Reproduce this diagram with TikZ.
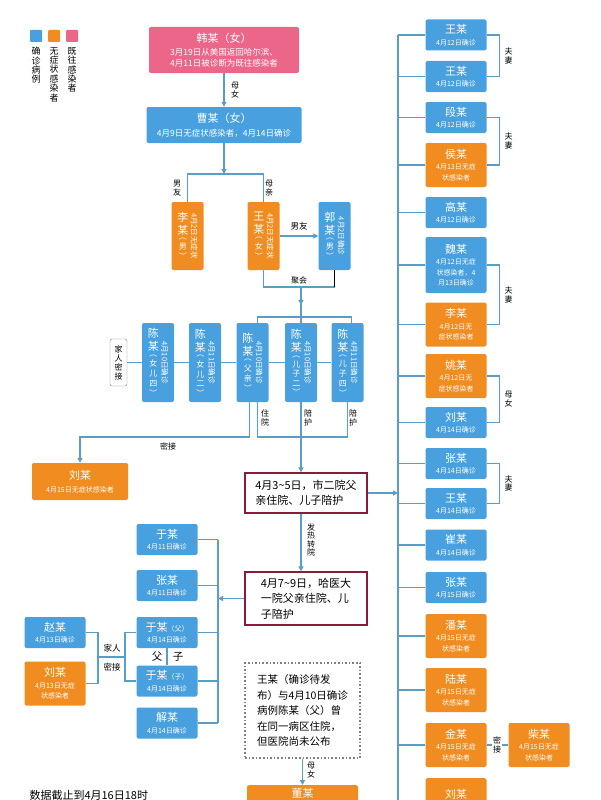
\documentclass[tikz,border=0pt]{standalone}
\usepackage{fontspec}
\setmainfont{Noto Sans CJK SC}
\usepackage{graphicx}
\usepackage{tikz}
\usetikzlibrary{arrows.meta}
\usepackage{xcolor}

\definecolor{cblue}{RGB}{72,160,222}
\definecolor{corange}{RGB}{240,140,32}
\definecolor{cpink}{RGB}{236,102,138}
\definecolor{cline}{RGB}{90,158,200}
\definecolor{cred}{RGB}{138,28,58}

\newcommand{\datef}{\fontsize{7}{8.5}\selectfont}
\newcommand{\dateF}{\fontsize{8.5}{10}\selectfont}
\newcommand{\parf}{\fontsize{8}{8}\selectfont}
\newcommand{\vstk}[2]{$\vcenter{\hbox{\shortstack{#1}}}$\hspace{2.5pt}$\vcenter{\hbox{\rotatebox{-90}{\fontsize{7.5}{8}\selectfont #2}}}$}

\begin{document}
\begin{tikzpicture}[x=1pt, y=-1pt,
    box/.style={rounded corners=2pt, text=white, align=center, inner sep=1pt, font=\fontsize{11}{12.5}\selectfont},
    conf/.style={box, fill=cblue},
    asym/.style={box, fill=corange},
    past/.style={box, fill=cpink},
    sbox/.style={minimum width=61pt, minimum height=31pt},
    tbox/.style={minimum width=61pt, minimum height=44pt},
    cbox/.style={minimum width=32pt, minimum height=79pt},
    nbox/.style={minimum width=32pt, minimum height=68pt},
    line/.style={draw=cline, line width=1.3pt},
    arr/.style={line, -{Triangle[length=5pt,width=5pt]}},
    lab/.style={font=\fontsize{8}{8.6}\selectfont, fill=white, inner sep=0.6pt, align=center},
    key/.style={minimum size=12pt, inner sep=0pt, rounded corners=1pt},
    legend/.style={font=\fontsize{9}{9.4}\selectfont, align=center, inner sep=0pt, anchor=north},
    stay/.style={draw=cred, line width=1.2pt, fill=white, align=left, font=\fontsize{11}{15.5}\selectfont, inner sep=4pt, minimum width=122pt}]
    \clip (0,0) rectangle (601,800);
    \fill[white] (0,0) rectangle (601,800);

    \node[key, fill=cblue] (kblue) at (36,36) {};
    \node[key, fill=corange] (korange) at (54,36) {};
    \node[key, fill=cpink] (kpink) at (72,36) {};
    \node[legend] (tblue) at (36,47) {确\\诊\\病\\例};
    \node[legend] (torange) at (54,47) {无\\症\\状\\感\\染\\者};
    \node[legend] (tpink) at (72,47) {既\\往\\感\\染\\者};

    \node[past, minimum width=150pt, minimum height=46pt] (han) at (224,50) {韩某（女）\\[1pt]\dateF 3月19日从美国返回哈尔滨、\\[-1.5pt]\dateF 4月11日被诊断为既往感染者};
    \node[conf, minimum width=155pt, minimum height=36pt] (cao) at (224,125) {曹某（女）\\[1pt]\dateF 4月9日无症状感染者，4月14日确诊};
    \node[asym, nbox] (li) at (187.5,236) {\vstk{李\\某\\{\parf\shortstack{︵\\男\\︶}}}{4月2日无症状}};
    \node[asym, nbox] (wangf) at (263.5,236) {\vstk{王\\某\\{\parf\shortstack{︵\\女\\︶}}}{4月2日无症状}};
    \node[conf, nbox] (guo) at (334.5,236) {\vstk{郭\\某\\{\parf\shortstack{︵\\男\\︶}}}{4月2日确诊}};

    \node[draw=gray, fill=white, rounded corners=2pt, minimum width=17pt, minimum height=47pt, inner sep=0.5pt, font=\fontsize{8}{9}\selectfont, align=center] (mj) at (118.5,362.5) {家\\人\\密\\接};
    \node[conf, cbox] (nv4) at (158,362.5) {\vstk{陈\\某\\{\parf\shortstack{︵\\女\\儿\\四\\︶}}}{4月10日确诊}};
    \node[conf, cbox] (nv2) at (205,362.5) {\vstk{陈\\某\\{\parf\shortstack{︵\\女\\儿\\二\\︶}}}{4月11日确诊}};
    \node[conf, cbox] (fa) at (252.5,362.5) {\vstk{陈\\某\\{\parf\shortstack{︵\\父\\亲\\︶}}}{4月10日确诊}};
    \node[conf, cbox] (zi2) at (301,362.5) {\vstk{陈\\某\\{\parf\shortstack{︵\\儿\\子\\二\\︶}}}{4月10日确诊}};
    \node[conf, cbox] (zi4) at (347.5,362.5) {\vstk{陈\\某\\{\parf\shortstack{︵\\儿\\子\\四\\︶}}}{4月11日确诊}};

    \node[asym, minimum width=96pt, minimum height=37pt] (liu1) at (80,481.5) {刘某\\[1pt]\datef 4月15日无症状感染者};
    \node[stay, minimum height=40pt] (h35) at (306,493) {4月3\textasciitilde5日，市二院父\\亲住院、儿子陪护};
    \node[stay, minimum height=53pt] (h79) at (306,598.5) {4月7\textasciitilde9日，哈医大\\一院父亲住院、儿\\子陪护};
    \node[draw=gray, dotted, line width=1.6pt, fill=white, align=left, font=\fontsize{10.5}{15.5}\selectfont, minimum width=115pt, minimum height=95pt, inner sep=3pt] (note) at (302.5,710.5) {王某（确诊待发\\布）与4月10日确诊\\病例陈某（父）曾\\在同一病区住院，\\但医院尚未公布};
    \node[asym, anchor=north, minimum width=111pt, minimum height=30pt, inner sep=3pt, text height=9pt, text depth=14pt] (dong) at (302.5,785) {董某};

    \node[conf, sbox] (yu1) at (167,539.5) {于某\\[-1pt]\datef 4月11日确诊};
    \node[conf, sbox] (zhang1) at (167,585.5) {张某\\[-1pt]\datef 4月11日确诊};
    \node[conf, sbox] (yuf) at (167,632.5) {于某{\datef（父）}\\[-1pt]\datef 4月14日确诊};
    \node[conf, sbox] (yuz) at (167,681) {于某{\datef（子）}\\[-1pt]\datef 4月14日确诊};
    \node[conf, sbox] (xie) at (167,723) {解某\\[-1pt]\datef 4月14日确诊};
    \node[conf, sbox] (zhao) at (55,632.5) {赵某\\[-1pt]\datef 4月13日确诊};
    \node[asym, tbox] (liu2) at (55,683.5) {刘某\\[-1pt]\datef 4月13日无症\\[-2pt]\datef 状感染者};

    \node[conf, sbox] (wang1) at (456,35) {王某\\[-1pt]\datef 4月12日确诊};
    \node[conf, sbox] (wang2) at (456,76.5) {王某\\[-1pt]\datef 4月12日确诊};
    \node[conf, sbox] (duan) at (456,117.5) {段某\\[-1pt]\datef 4月12日确诊};
    \node[asym, tbox] (hou) at (456,165) {侯某\\[-1pt]\datef 4月13日无症\\[-2pt]\datef 状感染者};
    \node[conf, sbox] (gao) at (456,212.5) {高某\\[-1pt]\datef 4月12日确诊};
    \node[conf, minimum width=61pt, minimum height=56pt] (wei) at (456,265) {魏某\\[-1pt]\datef 4月12日无症\\[-2pt]\datef 状感染者，4\\[-2pt]\datef 月13日确诊};
    \node[asym, tbox] (li2) at (456,324.5) {李某\\[-1pt]\datef 4月12日无\\[-2pt]\datef 症状感染者};
    \node[asym, tbox] (yao) at (456,376) {姚某\\[-1pt]\datef 4月12日无\\[-2pt]\datef 症状感染者};
    \node[conf, sbox] (liu3) at (456,422.5) {刘某\\[-1pt]\datef 4月14日确诊};
    \node[conf, sbox] (zhang2) at (456,463.5) {张某\\[-1pt]\datef 4月14日确诊};
    \node[conf, sbox] (wang3) at (456,503.5) {王某\\[-1pt]\datef 4月14日确诊};
    \node[conf, sbox] (cui) at (456,545) {崔某\\[-1pt]\datef 4月14日确诊};
    \node[conf, sbox] (zhang3) at (456,587.5) {张某\\[-1pt]\datef 4月15日确诊};
    \node[asym, tbox] (pan) at (456,636) {潘某\\[-1pt]\datef 4月15日无症\\[-2pt]\datef 状感染者};
    \node[asym, tbox] (lu) at (456,690) {陆某\\[-1pt]\datef 4月15日无症\\[-2pt]\datef 状感染者};
    \node[asym, tbox] (jin) at (456,745) {金某\\[-1pt]\datef 4月15日无症\\[-2pt]\datef 状感染者};
    \node[asym, tbox] (chai) at (539,745) {柴某\\[-1pt]\datef 4月15日无症\\[-2pt]\datef 状感染者};
    \node[asym, minimum width=61pt, minimum height=44pt, anchor=north, inner sep=2pt] (liu4) at (456,778) {刘某\\[-1pt]\datef 4月15日无症};

    \draw[arr] (han) -- (cao);
    \node[lab] (l1) at (235,90) {母\\女};
    \coordinate (j1) at (224,174);
    \draw[arr] (cao) -- (j1);
    \draw[line] (li) |- (j1) -| (wangf);
    \node[lab] (l2) at (177,188) {男\\友};
    \node[lab] (l3) at (269,188) {母\\亲};
    \draw[arr] (wangf) -- (guo);
    \node[lab, font=\fontsize{8.5}{9}\selectfont] (l4) at (299,226) {男友};
    \coordinate (j2) at (334.5,287);
    \draw[line] (wangf) |- (j2);
    \draw[black, line width=1.8pt] (guo) -- (j2);
    \node[lab] (l5) at (299,280) {聚会};

    \coordinate (j3) at (301,287);
    \coordinate (j4) at (301,317);
    \draw[line] (j3) -- (zi2);
    \draw[arr] (j3) -- ++(0,18);
    \draw[line] ([xshift=5]fa.north) |- (j4) -| ([xshift=4]zi4.north);
    \foreach \a/\b in {mj/nv4, nv4/nv2, nv2/fa, fa/zi2, zi2/zi4}
        \draw[line] (\a) -- (\b);

    \coordinate (k1) at (80,437);
    \draw[arr] ([xshift=-3]fa.south) |- (k1) -- (liu1);
    \node[lab] (l6) at (168,446) {密接};
    \draw[line] ([xshift=5]fa.south) |- (zi4.south |- k1) -- (zi4.south);
    \draw[arr] (zi2) -- (zi2 |- h35.north);
    \node[lab] (l7) at (265,418) {住\\院};
    \node[lab] (l8) at (308,418) {陪\\护};
    \node[lab] (l9) at (353,418) {陪\\护};

    \coordinate (t0) at (398,35);
    \coordinate (t1) at (398,800);
    \draw[line] (t0) -- (t1);
    \draw[arr] (h35) -- (h35 -| t0);
    \foreach \n in {wang1,wang2,duan,hou,gao,wei,li2,yao,liu3,zhang2,wang3,cui,zhang3,pan,lu,jin,liu4}
        \draw[line] (\n) -- (\n -| t0);
    \foreach \a/\b/\t in {wang1/wang2/夫\\妻, duan/hou/夫\\妻, wei/li2/夫\\妻, yao/liu3/母\\女, zhang2/wang3/夫\\妻} {
        \draw[line] (\a.east) -- ++(13,0) |- (\b.east);
        \path (\a.east) -- (\b.east) node[lab, midway, xshift=22] (r\a) {\t};
    }
    \draw[line] (jin) -- (chai);
    \node[lab] (l10) at (497,745) {密\\接};

    \draw[arr] (zi2 |- h35.south) -- (zi2 |- h79.north);
    \node[lab] (l11) at (311,540) {发\\热\\转\\院};
    \coordinate (l0) at (218,539.5);
    \draw[arr] (h79) -- (h79 -| l0);
    \draw[line] (l0) -- (xie -| l0);
    \foreach \n in {yu1,zhang1,yuf,yuz,xie}
        \draw[line] (\n) -- (\n -| l0);
    \draw[line] (yuf) -- (yuz);
    \node[font=\fontsize{10.5}{11}\selectfont] (fz1) at (157,657) {父};
    \node[font=\fontsize{10.5}{11}\selectfont] (fz2) at (178,657) {子};
    \coordinate (m1) at (125,657);
    \coordinate (m2) at (98,657);
    \draw[line] (yuf) -| (m1) |- (yuz);
    \draw[line] (m1) -- (m2);
    \draw[line] (zhao) -| (m2) |- (liu2);
    \node[font=\fontsize{8.5}{9}\selectfont, inner sep=0.5pt] (l12) at (112,648) {家人};
    \node[font=\fontsize{8.5}{9}\selectfont, inner sep=0.5pt] (l13) at (112,667) {密接};

    \draw[arr] (note) -- (dong);
    \node[lab] (l14) at (311,770) {母\\女};
    \node[anchor=west, font=\fontsize{11}{12}\selectfont] (date) at (26,795) {数据截止到4月16日18时};
\end{tikzpicture}
\end{document}
